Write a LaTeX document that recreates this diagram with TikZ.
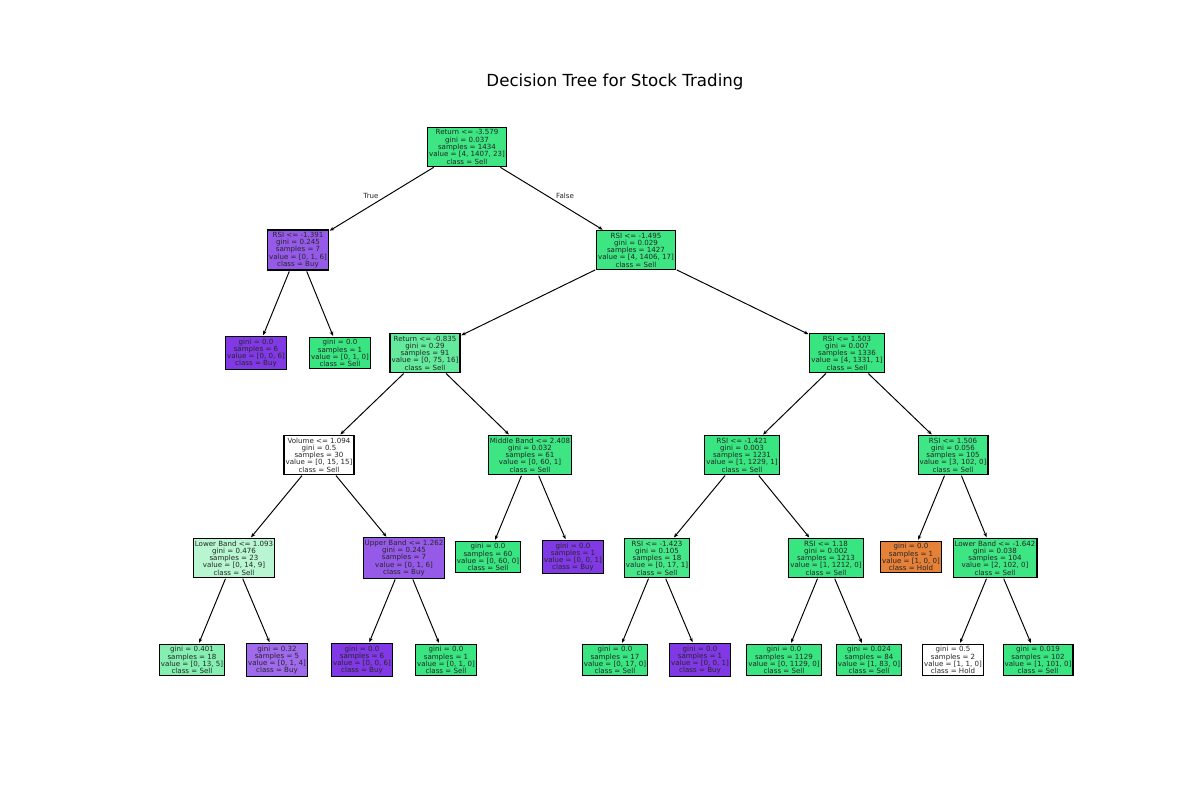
\documentclass[tikz,border=0pt]{standalone}
\usepackage{fontspec}
\setmainfont{DejaVu Sans}
\usetikzlibrary{arrows.meta}

% sklearn-style class colours, blended with white by purity
\definecolor{g100}{RGB}{57,229,129}
\definecolor{g98}{RGB}{61,229,131}
\definecolor{g97}{RGB}{63,230,133}
\definecolor{g94}{RGB}{69,231,136}
\definecolor{g79}{RGB}{99,234,156}
\definecolor{g62}{RGB}{133,239,178}
\definecolor{g36}{RGB}{184,246,210}
\definecolor{p100}{RGB}{129,57,229}
\definecolor{p83}{RGB}{150,90,233}
\definecolor{p75}{RGB}{160,106,236}
\definecolor{o100}{RGB}{229,129,57}

\tikzset{
  tn/.style={draw=black, line width=0.8pt, rectangle, align=center,
    font=\fontsize{5.1}{5.25}\selectfont, inner xsep=1.1pt, inner ysep=1.5pt,
    text=black!85},
  arr/.style={-{Stealth[length=3.2pt,width=2.6pt]}, line width=0.7pt, shorten >=0.6pt, shorten <=0.6pt},
  elab/.style={font=\fontsize{5.1}{5.25}\selectfont, text=black!85, inner sep=0pt}
}

\begin{document}
\begin{tikzpicture}[x=0.72pt, y=-0.72pt]
\useasboundingbox (0,0) rectangle (1200,800);
\fill[white] (0,0) rectangle (1200,800);

\node[font=\fontsize{12}{14}\selectfont] (title) at (615,82) {Decision Tree for Stock Trading};

% level 0
\node[tn, fill=g98] (r) at (467,147) {Return <= -3.579\\gini = 0.037\\samples = 1434\\value = [4, 1407, 23]\\class = Sell};
% level 1
\node[tn, fill=p83] (a) at (298,250) {RSI <= -1.391\\gini = 0.245\\samples = 7\\value = [0, 1, 6]\\class = Buy};
\node[tn, fill=g98] (b) at (636,250) {RSI <= -1.495\\gini = 0.029\\samples = 1427\\value = [4, 1406, 17]\\class = Sell};
% level 2
\node[tn, fill=p100] (aa) at (256,353) {gini = 0.0\\samples = 6\\value = [0, 0, 6]\\class = Buy};
\node[tn, fill=g100] (ab) at (340,353) {gini = 0.0\\samples = 1\\value = [0, 1, 0]\\class = Sell};
\node[tn, fill=g79] (ba) at (425,353) {Return <= -0.835\\gini = 0.29\\samples = 91\\value = [0, 75, 16]\\class = Sell};
\node[tn, fill=g100] (bb) at (847,353) {RSI <= 1.503\\gini = 0.007\\samples = 1336\\value = [4, 1331, 1]\\class = Sell};
% level 3
\node[tn, fill=white] (baa) at (319,455) {Volume <= 1.094\\gini = 0.5\\samples = 30\\value = [0, 15, 15]\\class = Sell};
\node[tn, fill=g98] (bab) at (530,455) {Middle Band <= 2.408\\gini = 0.032\\samples = 61\\value = [0, 60, 1]\\class = Sell};
\node[tn, fill=g100] (bba) at (742,455) {RSI <= -1.421\\gini = 0.003\\samples = 1231\\value = [1, 1229, 1]\\class = Sell};
\node[tn, fill=g97] (bbb) at (953,455) {RSI <= 1.506\\gini = 0.056\\samples = 105\\value = [3, 102, 0]\\class = Sell};
% level 4
\node[tn, fill=g36] (c1) at (234,558) {Lower Band <= 1.093\\gini = 0.476\\samples = 23\\value = [0, 14, 9]\\class = Sell};
\node[tn, fill=p83] (c2) at (404,558) {Upper Band <= 1.262\\gini = 0.245\\samples = 7\\value = [0, 1, 6]\\class = Buy};
\node[tn, fill=g100] (c3) at (488,557) {gini = 0.0\\samples = 60\\value = [0, 60, 0]\\class = Sell};
\node[tn, fill=p100] (c4) at (573,557) {gini = 0.0\\samples = 1\\value = [0, 0, 1]\\class = Buy};
\node[tn, fill=g94] (c5) at (657,558) {RSI <= -1.423\\gini = 0.105\\samples = 18\\value = [0, 17, 1]\\class = Sell};
\node[tn, fill=g100] (c6) at (826,558) {RSI <= 1.18\\gini = 0.002\\samples = 1213\\value = [1, 1212, 0]\\class = Sell};
\node[tn, fill=o100] (c7) at (911,557) {gini = 0.0\\samples = 1\\value = [1, 0, 0]\\class = Hold};
\node[tn, fill=g98] (c8) at (995,558) {Lower Band <= -1.642\\gini = 0.038\\samples = 104\\value = [2, 102, 0]\\class = Sell};
% level 5
\node[tn, fill=g62] (d1) at (192,660) {gini = 0.401\\samples = 18\\value = [0, 13, 5]\\class = Sell};
\node[tn, fill=p75] (d2) at (277,660) {gini = 0.32\\samples = 5\\value = [0, 1, 4]\\class = Buy};
\node[tn, fill=p100] (d3) at (362,660) {gini = 0.0\\samples = 6\\value = [0, 0, 6]\\class = Buy};
\node[tn, fill=g100] (d4) at (446,660) {gini = 0.0\\samples = 1\\value = [0, 1, 0]\\class = Sell};
\node[tn, fill=g100] (d5) at (615,660) {gini = 0.0\\samples = 17\\value = [0, 17, 0]\\class = Sell};
\node[tn, fill=p100] (d6) at (700,660) {gini = 0.0\\samples = 1\\value = [0, 0, 1]\\class = Buy};
\node[tn, fill=g100] (d7) at (784,660) {gini = 0.0\\samples = 1129\\value = [0, 1129, 0]\\class = Sell};
\node[tn, fill=g100] (d8) at (869,660) {gini = 0.024\\samples = 84\\value = [1, 83, 0]\\class = Sell};
\node[tn, fill=white] (d9) at (953,660) {gini = 0.5\\samples = 2\\value = [1, 1, 0]\\class = Hold};
\node[tn, fill=g100] (d10) at (1038,660) {gini = 0.019\\samples = 102\\value = [1, 101, 0]\\class = Sell};

% branches
\draw[arr] (r) -- (a);
\draw[arr] (r) -- (b);
\draw[arr] (a) -- (aa);
\draw[arr] (a) -- (ab);
\draw[arr] (b) -- (ba);
\draw[arr] (b) -- (bb);
\draw[arr] (ba) -- (baa);
\draw[arr] (ba) -- (bab);
\draw[arr] (bb) -- (bba);
\draw[arr] (bb) -- (bbb);
\draw[arr] (baa) -- (c1);
\draw[arr] (baa) -- (c2);
\draw[arr] (bab) -- (c3);
\draw[arr] (bab) -- (c4);
\draw[arr] (bba) -- (c5);
\draw[arr] (bba) -- (c6);
\draw[arr] (bbb) -- (c7);
\draw[arr] (bbb) -- (c8);
\draw[arr] (c1) -- (d1);
\draw[arr] (c1) -- (d2);
\draw[arr] (c2) -- (d3);
\draw[arr] (c2) -- (d4);
\draw[arr] (c5) -- (d5);
\draw[arr] (c5) -- (d6);
\draw[arr] (c6) -- (d7);
\draw[arr] (c6) -- (d8);
\draw[arr] (c8) -- (d9);
\draw[arr] (c8) -- (d10);

\node[elab] (ltrue) at (371,196) {True};
\node[elab] (lfalse) at (565,196) {False};
\end{tikzpicture}
\end{document}
